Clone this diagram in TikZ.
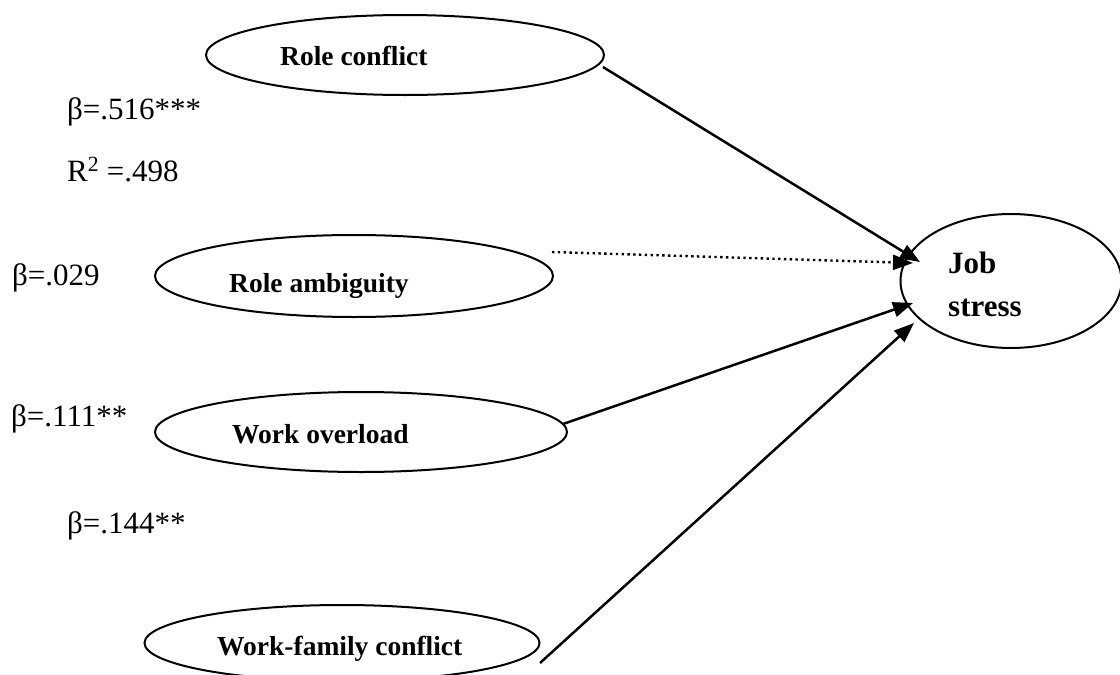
\documentclass[tikz,border=0pt]{standalone}
\usepackage{fontspec}
\setmainfont{Liberation Serif}
\usetikzlibrary{shapes.geometric,arrows.meta,calc}
\begin{document}
\begin{tikzpicture}[x=1pt,y=-1pt,
  oval/.style={draw,ellipse,line width=2pt,inner sep=0pt},
  ntext/.style={anchor=base west,inner sep=0pt,font=\fontsize{27.5}{33}\selectfont\bfseries},
  coef/.style={anchor=base west,inner sep=0pt,font=\fontsize{31}{37}\selectfont},
  path/.style={line width=2.5pt,-{Triangle[length=20pt,width=15pt]}},
  insig/.style={line width=2.4pt,dash pattern=on 2.4pt off 3.4pt,-{Triangle[length=20pt,width=15pt,sep=0pt]}}
]
\useasboundingbox (0,0) rectangle (1120,675);
% ellipses
\node[oval,minimum width=398pt,minimum height=80pt] (rc) at (405,55) {};
\node[oval,minimum width=398pt,minimum height=82pt] (ra) at (354,276) {};
\node[oval,minimum width=412pt,minimum height=80pt] (wo) at (361,432) {};
\node[oval,minimum width=395pt,minimum height=76pt] (wf) at (342,643) {};
\node[oval,minimum width=221pt,minimum height=134pt] (js) at (1011,281) {};
% ellipse texts
\node[ntext] (rct) at (280,65) {Role conflict};
\node[ntext] (rat) at (229,292) {Role ambiguity};
\node[ntext] (wot) at (232,443) {Work overload};
\node[ntext] (wft) at (217,655) {Work-family conflict};
\node[ntext,font=\fontsize{31}{37}\selectfont\bfseries] (jst1) at (948,273) {Job};
\node[ntext,font=\fontsize{31}{37}\selectfont\bfseries] (jst2) at (948,316) {stress};
% coefficients
\node[coef] (b1) at (67,119) {β=.516***};
\node[coef] (r2) at (67,181) {R\textsuperscript{2} =.498};
\node[coef] (b2) at (12,285) {β=.029};
\node[coef] (b3) at (11,426) {β=.111**};
\node[coef] (b4) at (67,533) {β=.144**};
% paths
\draw[path] ($(rc.center)+(198,12)$) -- ($(js.center)+(-91,-19)$);
\draw[insig] ($(ra.center)+(198,-24)$) -- ($(js.center)+(-98,-18)$);
\draw[path] ($(wo.center)+(202,-8)$) -- ($(js.center)+(-98,22)$);
\draw[path] ($(wf.center)+(198,20)$) -- ($(js.center)+(-97,42)$);
\end{tikzpicture}
\end{document}
